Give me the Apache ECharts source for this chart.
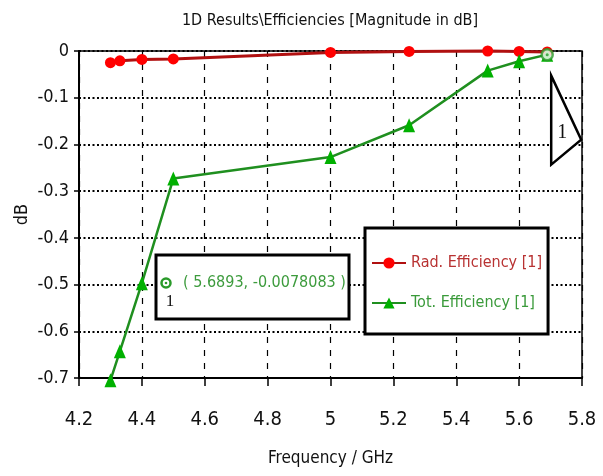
<!DOCTYPE html>
<html>
<head>
<meta charset="utf-8">
<script src="https://cdn.jsdelivr.net/npm/echarts@6/dist/echarts.min.js"></script>
<style>html,body{margin:0;padding:0;background:#fff;}#c{width:603px;height:476px;}</style>
</head>
<body>
<div id="c"></div>
<script>
// ---- data ----
const freqGHz = [4.3, 4.33, 4.4, 4.5, 5.0, 5.25, 5.5, 5.6, 5.6893];
const radEfficiency = [-0.025, -0.021, -0.018, -0.017, -0.003, -0.001, 0.0, -0.001, -0.002];
const totEfficiency = [-0.705, -0.643, -0.497, -0.273, -0.227, -0.159, -0.042, -0.022, -0.0078083];
const markerPoint = [5.6893, -0.0078083];
const seriesNames = ['Rad. Efficiency [1]', 'Tot. Efficiency [1]'];
const titleText = '1D Results\\Efficiencies [Magnitude in dB]';
const xName = 'Frequency / GHz';
const yName = 'dB';

const FONT = "'DejaVu Sans Condensed', 'Liberation Sans Narrow', sans-serif";
const SERIF = "'Liberation Serif', 'DejaVu Serif', serif";

const chart = echarts.init(document.getElementById('c'), null, {renderer: 'canvas'});

const option = {
  animation: false,
  backgroundColor: '#fff',
  title: {
    text: titleText, left: 330, top: 13, textAlign: 'center', padding: 0,
    textStyle: {fontFamily: FONT, fontSize: 16, fontWeight: 'normal', color: '#111'}
  },
  grid: {left: 79, right: 21, top: 51, bottom: 98, show: true, borderColor: '#000', borderWidth: 1.5,
         backgroundColor: 'transparent', outerBoundsMode: 'none', containLabel: false},
  xAxis: {
    type: 'value', min: 4.2, max: 5.8, interval: 0.2,
    name: xName, nameLocation: 'middle', nameGap: 72,
    nameTextStyle: {fontFamily: FONT, fontSize: 17, color: '#111'},
    axisLine: {show: true, onZero: false, lineStyle: {color: '#000', width: 2}},
    axisTick: {show: true, inside: false, length: 8, lineStyle: {color: '#000', width: 1.5}},
    axisLabel: {margin: 32, fontFamily: FONT, fontSize: 20, color: '#111'},
    splitLine: {show: true, lineStyle: {color: '#000', width: 1.2, type: [6, 7]}}
  },
  yAxis: {
    type: 'value', min: -0.7, max: 0, interval: 0.1,
    name: yName, nameLocation: 'middle', nameGap: 48, nameRotate: 90, nameMoveOverlap: false,
    nameTextStyle: {fontFamily: FONT, fontSize: 18, color: '#111'},
    axisLine: {show: true, onZero: false, lineStyle: {color: '#000', width: 2}},
    axisTick: {show: true, inside: false, length: 5, lineStyle: {color: '#000', width: 1.5}},
    axisLabel: {margin: 10, fontFamily: FONT, fontSize: 18, color: '#111'},
    splitLine: {show: true, lineStyle: {color: '#000', width: 1.8, type: [2, 2.5]}}
  },
  legend: {
    orient: 'vertical', left: 365, top: 228,
    padding: [27, 6, 23, 6],
    backgroundColor: '#fff', borderColor: '#000', borderWidth: 3, borderRadius: 0,
    itemWidth: 34, itemHeight: 14, itemGap: 24,
    textStyle: {fontFamily: FONT, fontSize: 16, lineHeight: 16},
    data: [
      {name: seriesNames[0], textStyle: {color: '#b83232'}},
      {name: seriesNames[1], textStyle: {color: '#3a9a3a'}}
    ]
  },
  series: [
    {
      name: seriesNames[0], type: 'line', z: 3, clip: false,
      data: freqGHz.map((f, i) => [f, radEfficiency[i]]),
      symbol: 'circle', symbolSize: 11,
      lineStyle: {color: '#b01010', width: 3},
      itemStyle: {color: '#ff0000'}
    },
    {
      name: seriesNames[1], type: 'line', z: 4, clip: false,
      data: freqGHz.map((f, i) => [f, totEfficiency[i]]),
      symbol: 'triangle', symbolSize: [12, 14],
      lineStyle: {color: '#1f8f1f', width: 2.5},
      itemStyle: {color: '#00b000'}
    },
    {
      name: 'marker', type: 'scatter', z: 6,
      data: [markerPoint], symbol: 'circle', symbolSize: 11,
      itemStyle: {color: '#fff', borderColor: '#2a9a2a', borderWidth: 2.5}
    },
    {
      name: 'markerDot', type: 'scatter', z: 7,
      data: [markerPoint], symbol: 'circle', symbolSize: 3,
      itemStyle: {color: '#2a9a2a'}
    }
  ]
};
chart.setOption(option);

// marker annotation positioned from the marker's pixel location
const mp = chart.convertToPixel({gridIndex: 0}, markerPoint);
const mx = mp[0], my = mp[1];
const labelText = '( ' + markerPoint[0] + ', ' + markerPoint[1] + ' )';
chart.setOption({
  graphic: [
    {
      type: 'polygon', z: 20,
      shape: {points: [[mx + 4, my + 21], [mx + 34, my + 85], [mx + 4, my + 110]]},
      style: {fill: '#fff', stroke: '#000', lineWidth: 2.5}
    },
    {
      type: 'text', z: 21, x: mx + 15, y: my + 78,
      style: {text: '1', font: '20px ' + SERIF, fill: '#111', align: 'center', verticalAlign: 'middle'}
    },
    {
      type: 'rect', z: 20,
      shape: {x: 156, y: 255, width: 193, height: 64},
      style: {fill: '#fff', stroke: '#000', lineWidth: 3}
    },
    {
      type: 'circle', z: 21,
      shape: {cx: 166, cy: 283, r: 4.5},
      style: {fill: '#fff', stroke: '#2a9a2a', lineWidth: 2.5}
    },
    {
      type: 'circle', z: 22,
      shape: {cx: 166, cy: 283, r: 1.3},
      style: {fill: '#2a9a2a'}
    },
    {
      type: 'text', z: 21, x: 170, y: 302,
      style: {text: '1', font: '17px ' + SERIF, fill: '#111', align: 'center', verticalAlign: 'middle'}
    },
    {
      type: 'text', z: 21, x: 183, y: 283,
      style: {text: labelText, font: '16px ' + FONT, fill: '#3d9b3d', align: 'left', verticalAlign: 'middle'}
    }
  ]
});
</script>
</body>
</html>
